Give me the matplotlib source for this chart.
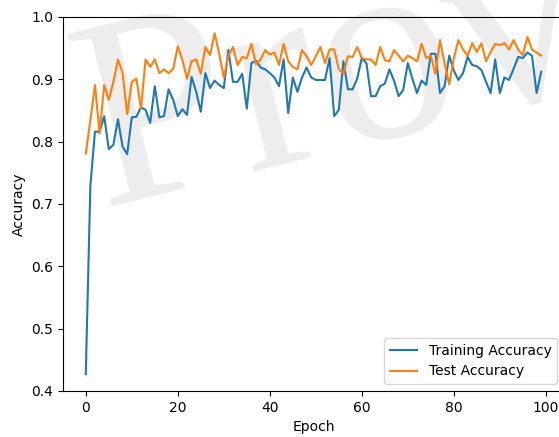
import numpy as np
from matplotlib import pyplot as plt

# Accuracy per epoch
train_acc = [0.427, 0.730, 0.816, 0.816, 0.841, 0.788, 0.795, 0.836, 0.792, 0.780,
             0.839, 0.840, 0.855, 0.851, 0.830, 0.889, 0.839, 0.841, 0.884, 0.867,
             0.841, 0.852, 0.843, 0.904, 0.880, 0.848, 0.910, 0.886, 0.898, 0.891,
             0.886, 0.947, 0.896, 0.896, 0.909, 0.853, 0.926, 0.930, 0.919, 0.916,
             0.910, 0.903, 0.889, 0.932, 0.846, 0.903, 0.880, 0.903, 0.919, 0.903,
             0.899, 0.899, 0.899, 0.934, 0.841, 0.851, 0.929, 0.884, 0.884, 0.901,
             0.934, 0.926, 0.873, 0.873, 0.889, 0.893, 0.916, 0.898, 0.873, 0.883,
             0.926, 0.901, 0.878, 0.898, 0.891, 0.941, 0.941, 0.878, 0.889, 0.938,
             0.914, 0.899, 0.910, 0.936, 0.923, 0.921, 0.915, 0.896, 0.878, 0.932,
             0.878, 0.903, 0.899, 0.917, 0.936, 0.934, 0.943, 0.938, 0.878, 0.912]
test_acc = [0.781, 0.835, 0.891, 0.813, 0.891, 0.867, 0.896, 0.932, 0.910, 0.844,
            0.896, 0.901, 0.853, 0.932, 0.920, 0.932, 0.910, 0.916, 0.910, 0.917,
            0.953, 0.931, 0.901, 0.929, 0.932, 0.909, 0.952, 0.939, 0.974, 0.941,
            0.903, 0.938, 0.952, 0.923, 0.936, 0.934, 0.957, 0.924, 0.932, 0.947,
            0.940, 0.943, 0.923, 0.957, 0.929, 0.920, 0.916, 0.947, 0.937, 0.923,
            0.937, 0.952, 0.926, 0.948, 0.948, 0.916, 0.909, 0.937, 0.936, 0.952,
            0.934, 0.932, 0.932, 0.923, 0.952, 0.931, 0.929, 0.947, 0.938, 0.929,
            0.938, 0.934, 0.929, 0.957, 0.934, 0.938, 0.909, 0.963, 0.926, 0.892,
            0.934, 0.963, 0.948, 0.938, 0.958, 0.944, 0.958, 0.929, 0.944, 0.957,
            0.955, 0.958, 0.948, 0.963, 0.948, 0.939, 0.968, 0.948, 0.943, 0.938]
epochs = np.arange(len(train_acc))

fig = plt.figure(figsize=(5.59, 4.37), dpi=100)
ax = fig.add_axes([0.1127, 0.1053, 0.8962, 0.8558])

# faint watermark behind the lines
ax.text(-0.015, 0.34, "Provi", transform=ax.transAxes, fontsize=196,
        family="Liberation Serif", color="#ededed", rotation=14,
        ha="left", va="bottom", zorder=0.5, clip_on=False)

ax.plot(epochs, train_acc, label="Training Accuracy")
ax.plot(epochs, test_acc, label="Test Accuracy")
ax.set_ylim(0.4, 1.0)
ax.set_xlabel("Epoch")
ax.set_ylabel("Accuracy")
ax.legend(loc="lower right")

fig.savefig("out.png", dpi=100)
